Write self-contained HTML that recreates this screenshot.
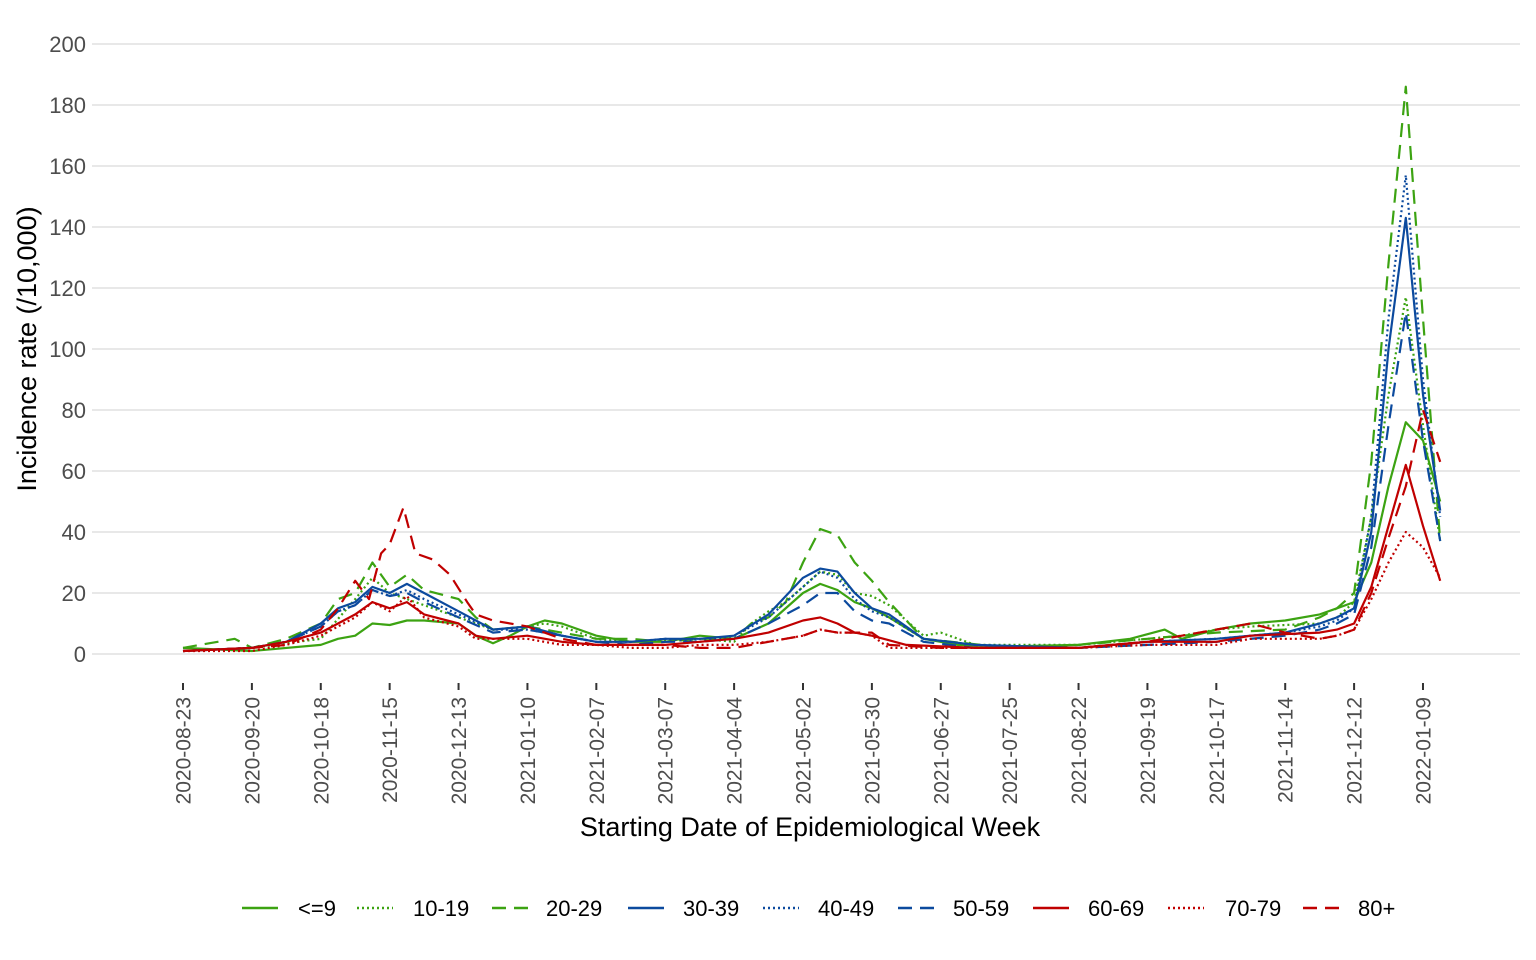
<!DOCTYPE html>
<html><head><meta charset="utf-8"><style>
body{margin:0;background:#fff}
svg{display:block;font-family:"Liberation Sans",sans-serif}
</style></head><body>
<svg id="c" width="1536" height="960" xmlns="http://www.w3.org/2000/svg">
<g id="grid" stroke="#d9d9d9" stroke-width="1.2"></g>
<g id="ylab" fill="#4d4d4d" font-size="22" text-anchor="end"></g>
<g id="xlab" fill="#4d4d4d" font-size="21" text-anchor="end"></g>
<g id="series" fill="none" stroke-width="2.2" stroke-linejoin="round"></g>
<text x="810" y="836" font-size="27" text-anchor="middle" fill="#000">Starting Date of Epidemiological Week</text>
<text transform="translate(36,349) rotate(-90)" font-size="27" text-anchor="middle" fill="#000">Incidence rate (/10,000)</text>
<g id="legend" font-size="22" fill="#000"></g>
</svg>
<script>
const NS="http://www.w3.org/2000/svg";
function el(p,t,a,txt){const e=document.createElementNS(NS,t);for(const k in a)e.setAttribute(k,a[k]);if(txt!==undefined)e.textContent=txt;p.appendChild(e);return e;}
const X=w=>183+17.222*w, Y=v=>654-3.05*v;
const g=document.getElementById('grid'),yl=document.getElementById('ylab'),xl=document.getElementById('xlab');
for(let v=0;v<=200;v+=20){el(g,'line',{x1:92,x2:1520,y1:Y(v),y2:Y(v)});el(yl,'text',{x:86,y:Y(v)+8},v);}
const dates=["2020-08-23","2020-09-20","2020-10-18","2020-11-15","2020-12-13","2021-01-10","2021-02-07","2021-03-07","2021-04-04","2021-05-02","2021-05-30","2021-06-27","2021-07-25","2021-08-22","2021-09-19","2021-10-17","2021-11-14","2021-12-12","2022-01-09"];
dates.forEach((d,i)=>{const x=X(i*4);el(g,'line',{x1:x,x2:x,y1:683,y2:690,stroke:"#333","stroke-width":2});
el(xl,'text',{transform:`translate(${x+7.5},697) rotate(-90)`},d);});
const G="#3ca312",B="#0c4a9e",R="#c00000";
const S=[
["<=9",G,"",[[0,2],[4,1],[8,3],[9,5],[10,6],[11,10],[12,9.5],[13,11],[14,11],[16,10],[17,6],[18,3.5],[19,6],[20,9],[21,11],[22,10],[24,6],[26,4],[28,4],[29,5],[30,6],[32,5],[34,10],[36,20],[37,23],[38,21],[39,17],[40,15],[41,12],[43,5],[45,3],[48,2.5],[52,3],[55,5],[57,8],[58,5],[60,8],[62,10],[64,11],[66,13],[67,15],[68,17],[69,30],[70,55],[71,76],[72,70],[73,50]]],
["10-19",G,"2,3",[[0,1],[4,2],[8,5],[10,18],[11,25],[12,20],[13,18],[14,16],[16,12],[18,8],[20,9],[21,10],[22,9],[24,5],[26,4],[30,5],[32,4],[33,10],[34,14],[35,17],[36,22],[37,27],[38,26],[39,20],[40,19],[41,16],[43,6],[44,7],[46,3],[52,3],[56,5],[58,6],[60,8],[62,9],[66,10],[67,12],[68,17],[69,45],[70,85],[71,117],[72,75],[73,37]]],
["20-29",G,"14,8",[[0,2],[3,5],[4,2],[6,5],[8,10],[9,18],[10,20],[11,30],[12,22],[13,26],[14,21],[16,18],[17,12],[18,8],[20,9],[24,5],[26,5],[28,4],[30,5],[32,5],[33,10],[34,12],[35,17],[36,30],[37,41],[38,39],[39,30],[40,24],[41,17],[43,5],[48,2],[52,3],[56,5],[60,7],[64,8],[66,12],[67,15],[68,20],[69,63],[70,128],[71,186],[72,110],[73,37]]],
["30-39",B,"",[[0,1],[4,2],[6,4],[8,10],[9,15],[10,17],[11,22],[12,20],[13,23],[14,20],[16,14],[18,8],[20,9],[22,6],[24,4],[26,4],[28,5],[30,5],[32,6],[34,13],[36,25],[37,28],[38,27],[39,20],[40,15],[41,13],[43,5],[46,3],[52,2],[56,4],[60,5],[64,7],[66,10],[67,12],[68,15],[69,40],[70,100],[71,143],[72,85],[73,47]]],
["40-49",B,"2,3",[[0,1],[4,2],[6,4],[8,9],[9,14],[10,16],[11,21],[12,19],[13,21],[14,18],[16,13],[18,8],[20,8],[22,6],[24,4],[26,4],[28,5],[30,4],[32,6],[34,12],[36,22],[37,27],[38,25],[39,18],[40,14],[41,12],[43,5],[46,3],[52,2],[56,4],[60,5],[64,7],[66,9],[67,11],[68,15],[69,45],[70,110],[71,157],[72,90],[73,45]]],
["50-59",B,"14,8",[[0,1],[4,2],[6,4],[8,9],[9,14],[10,16],[11,21],[12,19],[13,20],[14,17],[16,12],[18,7],[20,8],[22,6],[24,4],[26,3],[28,4],[30,4],[32,5],[34,10],[36,16],[37,20],[38,20],[39,14],[40,11],[41,10],[43,4],[46,2],[52,2],[56,3],[60,4],[64,6],[66,8],[67,10],[68,13],[69,35],[70,75],[71,112],[72,70],[73,37]]],
["60-69",R,"",[[0,1],[4,2],[6,4],[8,7],[9,10],[10,13],[11,17],[12,15],[13,17],[14,13],[16,10],[17,6],[18,5],[20,6],[22,4],[24,3],[26,3],[28,3],[30,4],[32,5],[34,7],[36,11],[37,12],[38,10],[39,7],[40,6],[42,3],[46,2],[52,2],[56,4],[60,4],[62,6],[66,7],[67,8],[68,10],[69,22],[70,42],[71,62],[72,42],[73,24]]],
["70-79",R,"2,3",[[0,1],[4,1],[6,3],[8,6],[9,9],[10,12],[11,17],[12,14],[13,19],[14,12],[16,9],[17,5],[18,5],[20,5],[22,3],[24,3],[26,2],[28,2],[30,3],[32,3],[34,4],[36,6],[37,8],[38,7],[39,7],[40,6],[41,2],[44,2],[52,2],[56,3],[60,3],[62,5],[66,5],[67,6],[68,8],[69,18],[70,30],[71,40],[72,35],[73,25]]],
["80+",R,"14,8",[[0,1],[4,2],[6,3],[8,8],[9,15],[10,24],[10.8,18],[11.5,33],[12,36],[12.8,48],[13.5,33],[14.5,31],[15.5,26],[16.5,17],[17,13],[18,11],[20,9],[22,5],[24,3],[28,3],[30,2],[32,2],[34,4],[36,6],[37,8],[38,7],[39,7],[40,7],[41,3],[44,2],[52,2],[56,4],[62,10],[64,7],[66,5],[67,6],[68,8],[69,20],[70,38],[71,55],[72,80],[73,63]]]
];
const sg=document.getElementById('series'),lg=document.getElementById('legend');
S.forEach(([n,c,d,pts])=>{
 el(sg,'path',{d:"M"+pts.map(p=>X(p[0]).toFixed(1)+","+Y(p[1]).toFixed(1)).join("L"),stroke:c,"stroke-dasharray":d||"none"});
});
const lx=[242,357,492,628,763,898,1033,1168,1303],tx=[298,413,546,683,818,953,1088,1225,1358];
S.forEach(([n,c,d],i)=>{el(lg,'line',{x1:lx[i],x2:lx[i]+36,y1:908,y2:908,stroke:c,"stroke-width":2.5,"stroke-dasharray":d||"none"});
el(lg,'text',{x:tx[i],y:916},n);});
</script>
</body></html>
